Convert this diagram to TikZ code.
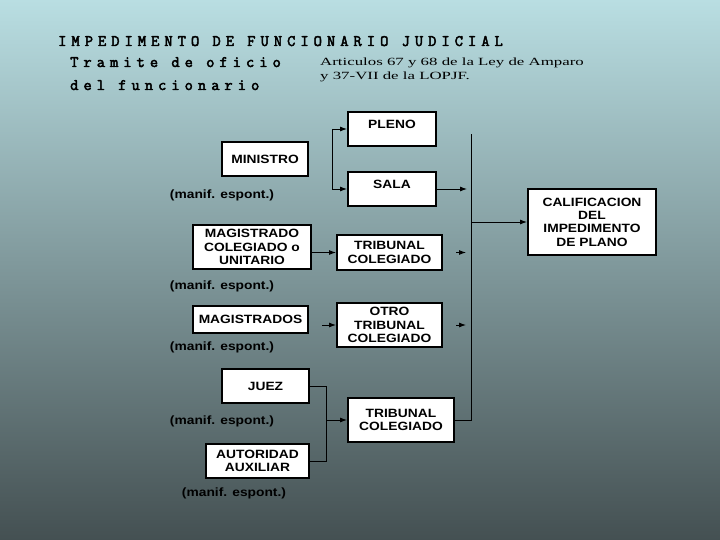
\documentclass[tikz,border=0pt]{standalone}
\usepackage{fontspec}
\setmainfont{Liberation Sans}
\newfontfamily\boxfont{Liberation Sans}[FakeStretch=1.15]
\newfontfamily\crfont{Latin Modern Mono}[LetterSpace=31.5, FakeBold=3]
\newfontfamily\artfont{Liberation Serif}[FakeStretch=1.53]
\usetikzlibrary{arrows.meta,positioning}
\definecolor{bgtop}{HTML}{B9DEE2}
\definecolor{bgmid}{HTML}{9DB8BC}
\definecolor{bgbot}{HTML}{445052}
\tikzset{
  bx/.style={draw=black, line width=2pt, fill=white, align=center, inner sep=1pt, font=\boxfont\bfseries\fontsize{12}{13.3}\selectfont},
  hi/.style={text depth=10pt},
  arr/.style={-{Latex[length=7pt,width=5pt]}, line width=0.9pt, color=black},
  ln/.style={line width=0.9pt, color=black},
  manif/.style={font=\boxfont\bfseries\fontsize{12}{13}\selectfont, inner sep=0pt},
  ttl/.style={anchor=base west, inner sep=0pt, font=\crfont\fontsize{16}{16}\selectfont},
  art/.style={anchor=base west, inner sep=0pt, font=\artfont\fontsize{11}{11}\selectfont},
}
\begin{document}
\begin{tikzpicture}[x=1pt, y=-1pt]
  % background, 720 x 540
  \shade[top color=bgtop, middle color=bgmid, bottom color=bgbot] (0,0) rectangle (720,540);
  \useasboundingbox (0,0) rectangle (720,540);
  % heading
  \node[ttl] (title) at (58,46) {IMPEDIMENTO DE FUNCIONARIO JUDICIAL};
  \node[ttl] (via) at (70,67) {Tramite de oficio};
  \node[ttl] (via2) at (70,90) {del funcionario};
  \node[art] (artA) at (320,66) {Articulos 67 y 68 de la Ley de Amparo};
  \node[art] (artB) at (320,80) {y 37-VII de la LOPJF.};
  % boxes
  \node[bx, hi, minimum width=88pt, minimum height=34pt] (pleno) at (392,129) {PLENO};
  \node[bx, hi, minimum width=88pt, minimum height=34pt] (sala) at (392,189) {SALA};
  \node[bx, minimum width=86pt, minimum height=34pt] (ministro) at (265,159) {MINISTRO};
  \node[bx, minimum width=118pt, minimum height=44pt] (magcol) at (252,247) {MAGISTRADO\\COLEGIADO o\\UNITARIO};
  \node[bx, minimum width=105pt, minimum height=35pt] (tribA) at (389.5,252.5) {TRIBUNAL\\COLEGIADO};
  \node[bx, minimum width=115pt, minimum height=27pt] (magis) at (250.5,319.5) {MAGISTRADOS};
  \node[bx, minimum width=105pt, minimum height=44pt] (otro) at (389.5,325) {OTRO\\TRIBUNAL\\COLEGIADO};
  \node[bx, minimum width=87pt, minimum height=34pt] (juez) at (265.5,386) {JUEZ};
  \node[bx, minimum width=103pt, minimum height=34pt] (autor) at (257.5,461) {AUTORIDAD\\AUXILIAR};
  \node[bx, minimum width=106pt, minimum height=44pt] (tribB) at (401,420) {TRIBUNAL\\COLEGIADO};
  \node[bx, minimum width=128pt, minimum height=66pt] (calif) at (592,222) {CALIFICACION\\DEL\\IMPEDIMENTO\\DE PLANO};
  % side notes
  \node[manif] (nA) at (222,195) {(manif. espont.)};
  \node[manif] (nB) at (222,286) {(manif. espont.)};
  \node[manif] (nC) at (222,347) {(manif. espont.)};
  \node[manif] (nD) at (222,421) {(manif. espont.)};
  \node[manif] (nE) at (234,493) {(manif. espont.)};
  % connectors
  \coordinate (splitL) at (332,129);
  \coordinate (busTop) at (471,134);
  \coordinate (merge) at (326,420);
  \draw[arr] (splitL) -- (pleno.west);
  \draw[arr] (splitL) |- (sala.west);
  \draw[arr, shorten >=4pt] (sala.east) -- (sala.east -| busTop);
  \draw[ln] (tribB.east) -| (busTop);
  \draw[arr] (busTop |- calif) -- (calif.west);
  \draw[arr] (magcol.east |- tribA) -- (tribA.west);
  \draw[arr, shorten <=13pt, shorten >=5pt] (tribA.east) -- (tribA.east -| busTop);
  \draw[arr, shorten <=13pt, shorten >=5pt] (otro.east) -- (otro.east -| busTop);
  \draw[arr, shorten <=13pt] (magis.east |- otro) -- (otro.west);
  \draw[ln] (juez.east) -| (merge);
  \draw[ln] (autor.east) -| (merge);
  \draw[arr] (merge) -- (tribB.west);
\end{tikzpicture}
\end{document}
